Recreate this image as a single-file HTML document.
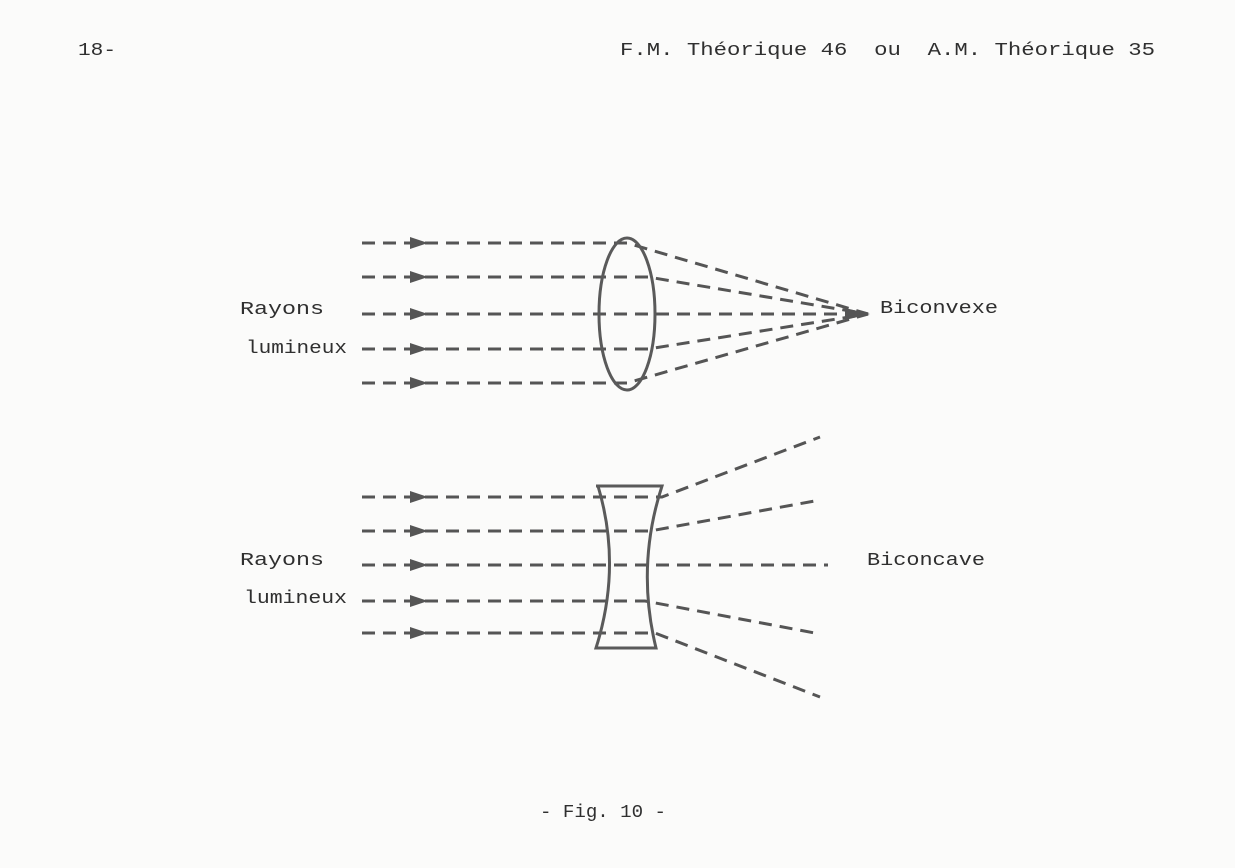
<!DOCTYPE html>
<html><head><meta charset="utf-8"><style>
html,body{margin:0;padding:0;background:#fbfbfa;}
svg{display:block}
text{font-family:"Liberation Mono",monospace;fill:#2f2f2f;font-size:18px}
.r{stroke:#555;stroke-width:3;stroke-dasharray:13 8;fill:none}
.l{stroke:#5a5a5a;stroke-width:3;fill:none}
</style></head><body>
<svg width="1235" height="868" viewBox="0 0 1235 868">
<text x="78" y="55" textLength="38" lengthAdjust="spacingAndGlyphs">18-</text>
<text x="620" y="55" textLength="535" lengthAdjust="spacingAndGlyphs" xml:space="preserve">F.M. Théorique 46  ou  A.M. Théorique 35</text>

<g class="r">
<path d="M362 243 H627 L868 314"/>
<path d="M362 277 H648 L868 314"/>
<path d="M362 314 H868"/>
<path d="M362 349 H648 L868 314"/>
<path d="M362 383 H627 L868 314"/>
</g>
<g fill="#555">
<path d="M410 237 L428 243 L410 249Z"/><path d="M410 271 L428 277 L410 283Z"/>
<path d="M410 308 L428 314 L410 320Z"/><path d="M410 343 L428 349 L410 355Z"/>
<path d="M410 377 L428 383 L410 389Z"/>
<path d="M845 308 L870 314 L845 320Z"/>
</g>
<ellipse class="l" cx="627" cy="314" rx="28" ry="76"/>

<g class="r">
<path d="M362 497 H662 L820 437"/>
<path d="M362 531 H650 L820 500"/>
<path d="M362 565 H828"/>
<path d="M362 601 H645 L820 634"/>
<path d="M362 633 H655 L820 697"/>
</g>
<g fill="#555">
<path d="M410 491 L428 497 L410 503Z"/><path d="M410 525 L428 531 L410 537Z"/>
<path d="M410 559 L428 565 L410 571Z"/><path d="M410 595 L428 601 L410 607Z"/>
<path d="M410 627 L428 633 L410 639Z"/>
</g>
<path class="l" d="M596 486 H662 Q636 566 656 648 H596 Q622 566 598 486Z"/>

<text x="240" y="314" textLength="84" lengthAdjust="spacingAndGlyphs">Rayons</text>
<text x="246" y="353" textLength="101" lengthAdjust="spacingAndGlyphs">lumineux</text>
<text x="880" y="313" textLength="118" lengthAdjust="spacingAndGlyphs">Biconvexe</text>
<text x="240" y="565" textLength="84" lengthAdjust="spacingAndGlyphs">Rayons</text>
<text x="244" y="603" textLength="103" lengthAdjust="spacingAndGlyphs">lumineux</text>
<text x="867" y="565" textLength="118" lengthAdjust="spacingAndGlyphs">Biconcave</text>
<text x="540" y="817" textLength="126" lengthAdjust="spacingAndGlyphs">- Fig. 10 -</text>
</svg>
</body></html>
